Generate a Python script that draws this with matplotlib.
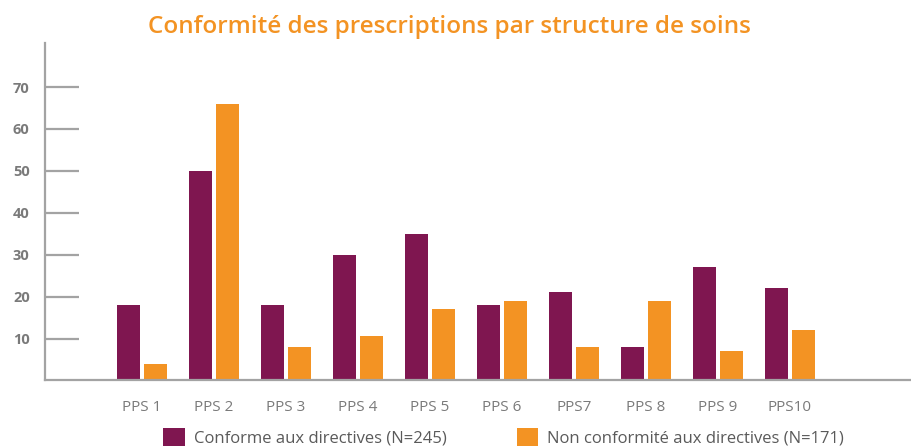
import matplotlib
matplotlib.use("Agg")
import matplotlib.pyplot as plt
from matplotlib.patches import Patch
import numpy as np

plt.rcParams["font.family"] = ["Open Sans", "DejaVu Sans"]

# ── Data ───────────────────────────────────────────────────────
categories = ["PPS 1", "PPS 2", "PPS 3", "PPS 4", "PPS 5",
              "PPS 6", "PPS7", "PPS 8", "PPS 9", "PPS10"]
conforme = [18, 50, 18, 30, 35, 18, 21, 8, 27, 22]
non_conforme = [4, 66, 8, 10.5, 17, 19, 8, 19, 7, 12]
yticks = [10, 20, 30, 40, 50, 60, 70]

label_conf = "Conforme aux directives (N=245)"
label_non = "Non conformité aux directives (N=171)"
title = "Conformité des prescriptions par structure de soins"

PURPLE = "#7F1650"
ORANGE = "#F39323"
AXIS = "#A3A3A3"
TEXT = "#7A7A7A"

# ── Plot ────────────────────────────────────────────────────────
fig = plt.figure(figsize=(9.11, 4.46), dpi=100)
ax = fig.add_axes([0.0494, 0.1469, 0.9495, 0.7567])

x = np.arange(len(categories))
w = 0.32
off = 0.1875
ax.bar(x - off, conforme, width=w, color=PURPLE, zorder=2)
ax.bar(x + off, non_conforme, width=w, color=ORANGE, zorder=2)

ax.set_xlim(-1.347, 10.667)
ax.set_ylim(0, 80.5)

for sp in ["top", "right"]:
    ax.spines[sp].set_visible(False)
for sp in ["left", "bottom"]:
    ax.spines[sp].set_color(AXIS)
    ax.spines[sp].set_linewidth(1.6)
    ax.spines[sp].set_zorder(3)

ax.set_yticks(yticks)
ax.set_yticklabels([str(t) for t in yticks], fontsize=10.5,
                   fontweight="bold", color=TEXT)
ax.tick_params(axis="y", direction="in", length=24.5, width=1.6,
               color=AXIS, pad=11)

ax.set_xticks(x)
ax.set_xticklabels(categories, fontsize=11, color=TEXT)
ax.tick_params(axis="x", length=0, pad=14)

fig.text(0.493, 0.94, title, ha="center", va="center",
         fontsize=17.5, fontweight="semibold", color=ORANGE)

handles = [Patch(facecolor=PURPLE, label=label_conf),
           Patch(facecolor=ORANGE, label=label_non)]
fig.legend(handles=handles, loc="center", bbox_to_anchor=(0.5527, 0.019),
           ncol=2, frameon=False, fontsize=12, labelcolor="#5A5A5A",
           handlelength=1.3, handleheight=1.3, handletextpad=0.55,
           columnspacing=4.2, borderpad=0)

fig.savefig("out.png", dpi=100)
